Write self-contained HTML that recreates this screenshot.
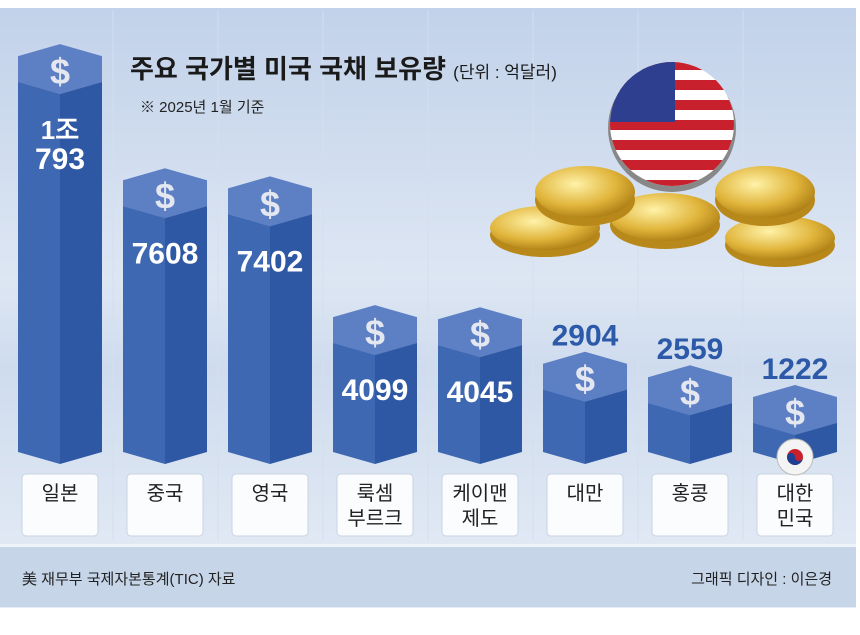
<!DOCTYPE html>
<html><head><meta charset="utf-8">
<style>
body{margin:0;width:860px;height:635px;background:#fff;overflow:hidden;font-family:"Liberation Sans","Noto Sans CJK KR",sans-serif}
svg{display:block}
</style></head><body>
<svg id="chart" width="860" height="635" viewBox="0 0 860 635">
<defs>
<linearGradient id="bg" x1="0" y1="0" x2="0" y2="1">
<stop offset="0" stop-color="#c2d2ea"/><stop offset="0.45" stop-color="#dde6f3"/><stop offset="0.6" stop-color="#cfdcee"/><stop offset="1" stop-color="#e6edf6"/>
</linearGradient>
<radialGradient id="gold" cx="0.4" cy="0.35" r="0.7"><stop offset="0" stop-color="#fff2a8"/><stop offset="0.6" stop-color="#e0b43a"/><stop offset="1" stop-color="#a97a12"/></radialGradient>
<clipPath id="flagclip"><circle cx="672" cy="124" r="62"/></clipPath>
</defs>
<rect x="0" y="8" width="856" height="600" fill="url(#bg)"/>
<rect x="0" y="544" width="856" height="3" fill="#eef3fa"/>
<rect x="0" y="547" width="856" height="60" fill="#c7d5e9"/>
<g id="bars"></g>
<text x="130" y="78" font-size="26" font-weight="bold" fill="#1a1a1a">주요 국가별 미국 국채 보유량 <tspan font-size="17" font-weight="normal">(단위 : 억달러)</tspan></text>
<text x="140" y="112" font-size="15" fill="#222">※ 2025년 1월 기준</text>
<g>
<ellipse cx="545" cy="235" rx="55" ry="22" fill="#b8891a"/><ellipse cx="545" cy="228" rx="55" ry="22" fill="url(#gold)"/>
<ellipse cx="780" cy="245" rx="55" ry="22" fill="#b8891a"/><ellipse cx="780" cy="238" rx="55" ry="22" fill="url(#gold)"/>
<ellipse cx="665" cy="225" rx="55" ry="24" fill="#b8891a"/><ellipse cx="665" cy="217" rx="55" ry="24" fill="url(#gold)"/>
<ellipse cx="585" cy="200" rx="50" ry="26" fill="#b8891a"/><ellipse cx="585" cy="192" rx="50" ry="26" fill="url(#gold)"/>
<ellipse cx="765" cy="200" rx="50" ry="26" fill="#b8891a"/><ellipse cx="765" cy="192" rx="50" ry="26" fill="url(#gold)"/>
<circle cx="672" cy="128" r="64" fill="#888"/>
<g clip-path="url(#flagclip)">
<rect x="600" y="60" width="150" height="130" fill="#fff"/>
<g id="stripes"></g>
<rect x="600" y="60" width="75" height="62" fill="#2f3f8f"/>
</g>
</g>
<text x="22" y="584" font-size="15" fill="#222">美 재무부 국제자본통계(TIC) 자료</text>
<text x="832" y="584" font-size="15" fill="#222" text-anchor="end">그래픽 디자인 : 이은경</text>
</svg>
<script>
const categories=["일본","중국","영국","룩셈|부르크","케이맨|제도","대만","홍콩","대한|민국"];
const values=[10793,7608,7402,4099,4045,2904,2559,1222];
const valueLabels=["1조|793","7608","7402","4099","4045","2904","2559","1222"];
const NS="http://www.w3.org/2000/svg";
const base=452;
function xCenter(i){return 60+i*105;}
function yTop(v){return base-Math.max(0.039*v-13,67);}
function mk(tag,attrs,parent){const e=document.createElementNS(NS,tag);for(const k in attrs)e.setAttribute(k,attrs[k]);parent.appendChild(e);return e;}
const st=document.getElementById('stripes');
for(let k=0;k<13;k+=2){mk('rect',{x:600,y:60+k*10,width:150,height:10,fill:'#c8202c'},st);}
const g=document.getElementById('bars');
for(let i=0;i<values.length;i++){
 const c=xCenter(i),t=yTop(values[i]),w=42;
 if(i>0){mk('line',{x1:c-52,y1:10,x2:c-52,y2:540,stroke:'#d4deee','stroke-width':1},g);}
 const bar=mk('g',{},g);
 
 
 mk('polygon',{points:`${c-w},${t+12} ${c},${t+24} ${c},${base+12} ${c-w},${base}`,fill:'#3f68b2'},bar);
 mk('polygon',{points:`${c},${t+24} ${c+w},${t+12} ${c+w},${base} ${c},${base+12}`,fill:'#2e58a4'},bar);
 mk('polygon',{points:`${c-w},${t+12} ${c},${t} ${c+w},${t+12} ${c+w},${t+38} ${c},${t+50} ${c-w},${t+38}`,fill:'#5d80c4'},bar);
 const d=mk('text',{x:c,y:t+40,'font-size':36,'font-weight':'bold',fill:'#e4e7ef','text-anchor':'middle'},bar);d.textContent='$';
 const lab=valueLabels[i].split('|');
 if(values[i]>4000){
  const y0=t+95;
  lab.forEach((s,k)=>{const tx=mk('text',{x:c,y:y0+k*30,'font-size':k==0&&lab.length>1?26:30,'font-weight':'bold',fill:'#fff','text-anchor':'middle','font-family':'"Liberation Sans Narrow","Liberation Sans",sans-serif'},bar);
   tx.textContent=s;});
 } else {
  const tx=mk('text',{x:c,y:t-6,'font-size':30,'font-weight':'bold',fill:'#2d5aa8','text-anchor':'middle','font-family':'"Liberation Sans Narrow","Liberation Sans",sans-serif'},bar);
  tx.textContent=lab[0];
 }
 const bx=mk('rect',{x:c-38,y:474,width:76,height:62,rx:4,fill:'#fbfcfe',stroke:'#c9d3e3'},g);
 
 
 const parts=categories[i].split('|');
 parts.forEach((s,k)=>{const tx=mk('text',{x:c,y:500+k*25,'font-size':20,fill:'#222','text-anchor':'middle'},g);
  tx.textContent=s;});
}
const kc=xCenter(7);
const f=mk('g',{},g);


mk('circle',{cx:kc,cy:457,r:18,fill:'#f4f4f4',stroke:'#bbb'},f);
mk('circle',{cx:kc,cy:457,r:8,fill:'#c8202c'},f);
mk('path',{d:`M${kc-8},457 A8,8 0 0,0 ${kc+8},457 A4,4 0 0,1 ${kc},457 A4,4 0 0,0 ${kc-8},457Z`,fill:'#1f3f92'},f);
</script>
</body></html>
